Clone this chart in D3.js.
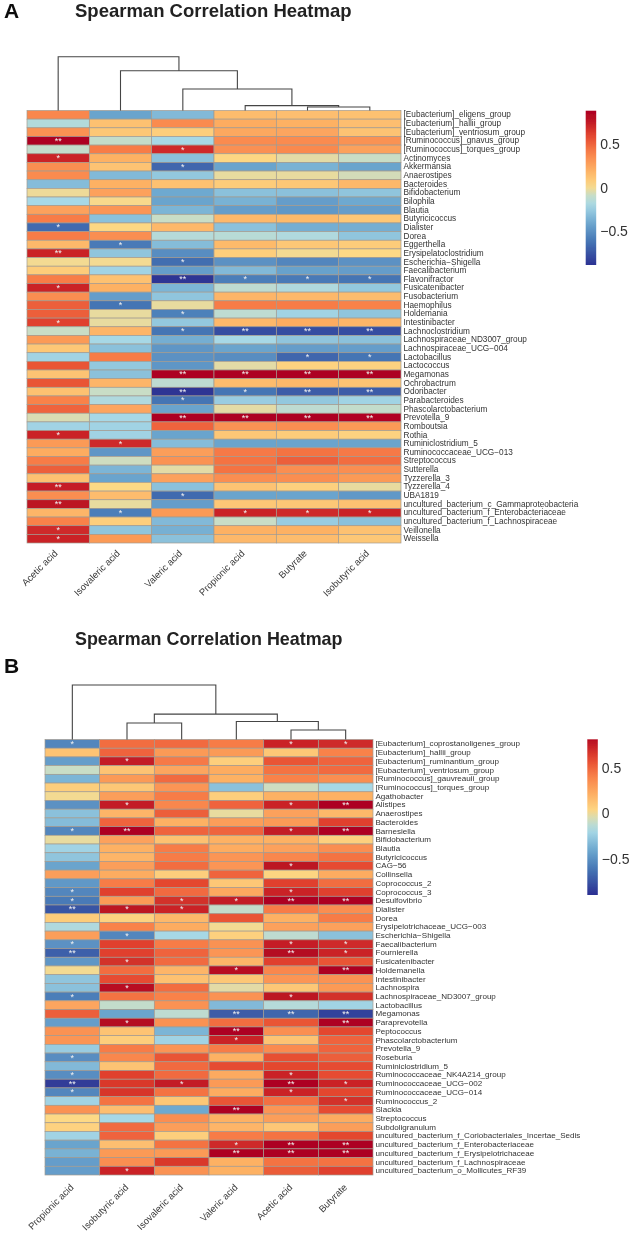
<!DOCTYPE html>
<html>
<head>
<meta charset="utf-8">
<script src="https://d3js.org/d3.v7.min.js"></script>
<style>
  body { margin: 0; background: #fff; }
  text { font-family: "Liberation Sans", Arial, sans-serif; }
</style>
</head>
<body>
<svg id="chart"></svg>
<script>
var colsA = ["Acetic acid", "Isovaleric acid", "Valeric acid", "Propionic acid", "Butyrate", "Isobutyric acid"];
var rowsA = ["[Eubacterium]_eligens_group", "[Eubacterium]_hallii_group", "[Eubacterium]_ventriosum_group",
    "[Ruminococcus]_gnavus_group", "[Ruminococcus]_torques_group", "Actinomyces", "Akkermansia", "Anaerostipes",
    "Bacteroides", "Bifidobacterium", "Bilophila", "Blautia", "Butyricicoccus", "Dialister", "Dorea", "Eggerthella",
    "Erysipelatoclostridium", "Escherichia\u2212Shigella", "Faecalibacterium", "Flavonifractor", "Fusicatenibacter",
    "Fusobacterium", "Haemophilus", "Holdemania", "Intestinibacter", "Lachnoclostridium",
    "Lachnospiraceae_ND3007_group", "Lachnospiraceae_UCG\u2212004", "Lactobacillus", "Lactococcus", "Megamonas",
    "Ochrobactrum", "Odoribacter", "Parabacteroides", "Phascolarctobacterium", "Prevotella_9", "Romboutsia", "Rothia",
    "Ruminiclostridium_5", "Ruminococcaceae_UCG\u2212013", "Streptococcus", "Sutterella", "Tyzzerella_3", "Tyzzerella_4",
    "UBA1819", "uncultured_bacterium_c_Gammaproteobacteria", "uncultured_bacterium_f_Enterobacteriaceae",
    "uncultured_bacterium_f_Lachnospiraceae", "Veillonella", "Weissella"];

var valuesA = [
    [.38, -.42, -.33, .15, .14, .13], [-.16, .13, .36, .22, .2, .14], [.33, .1, .07, .24, .25, .12],
    [.85, -.1, -.2, .36, .36, .33], [-.1, .42, .7, .34, .37, .27], [.72, .2, -.3, .03, -.03, -.08],
    [.35, .12, -.68, -.42, -.36, -.42], [.36, -.33, -.27, -.02, -.02, -.06], [-.32, .2, .13, .08, .1, .17],
    [-.01, .27, -.4, -.3, -.3, -.28], [-.2, .01, -.42, -.36, -.45, -.4], [.27, .32, -.35, -.45, -.47, -.45],
    [.42, -.3, -.08, .17, .16, .1], [-.66, .03, .17, -.3, -.38, -.38], [.42, .35, -.15, -.14, -.17, -.28],
    [.17, -.6, -.32, .16, .1, .08], [.72, -.28, -.52, .07, 0, .02], [0, 0, -.65, -.5, -.55, -.5],
    [.08, -.22, -.45, -.33, -.43, -.45], [.42, .13, -.88, -.58, -.6, -.62], [.72, .2, -.35, -.12, -.17, -.27],
    [.35, -.45, -.28, .18, .17, .15], [.52, -.62, -.02, .42, .42, .4], [.52, -.02, -.57, -.12, -.22, -.28],
    [.62, -.02, -.27, .17, .22, .18], [-.08, .18, -.62, -.78, -.78, -.78], [.3, -.2, -.38, -.2, -.28, -.3],
    [.1, -.3, -.48, -.42, -.45, -.45], [-.22, .42, -.5, -.52, -.68, -.62], [.55, -.27, -.48, -.03, .05, .05],
    [.12, -.3, .85, .85, .87, .87], [.55, .18, -.12, .15, .17, .12], [.13, -.08, -.88, -.62, -.72, -.72],
    [.4, -.17, -.62, -.25, -.27, -.22], [.5, .25, -.42, -.03, -.12, -.1], [-.05, -.2, .85, .85, .86, .83],
    [-.22, -.22, .5, .33, .35, .3], [.72, -.22, -.42, .1, .08, .05], [.3, .7, -.32, -.42, -.42, -.42],
    [.22, -.48, .28, .43, .45, .43], [.42, -.07, .33, .45, .52, .47], [.52, -.35, -.03, .45, .35, .35],
    [.13, -.42, .27, .35, .35, .3], [.74, .02, -.3, .12, .06, -.02], [.35, .15, -.66, -.42, -.42, -.47],
    [.78, -.02, -.45, .1, .1, .13], [.18, -.58, .3, .72, .7, .72], [.4, .07, -.33, -.08, -.25, -.3],
    [.7, -.28, -.37, .2, .2, .13], [.72, .3, -.3, .17, .15, .1]
];

// [row, column, mark]
var marksA = [
    [3, 0, "**"], [4, 2, "*"], [5, 0, "*"], [6, 2, "*"], [13, 0, "*"], [15, 1, "*"], [16, 0, "**"], [17, 2, "*"],
    [19, 2, "**"], [19, 3, "*"], [19, 4, "*"], [19, 5, "*"], [20, 0, "*"], [22, 1, "*"], [23, 2, "*"], [24, 0, "*"],
    [25, 2, "*"], [25, 3, "**"], [25, 4, "**"], [25, 5, "**"], [28, 4, "*"], [28, 5, "*"], [30, 2, "**"], [30, 3, "**"],
    [30, 4, "**"], [30, 5, "**"], [32, 2, "**"], [32, 3, "*"], [32, 4, "**"], [32, 5, "**"], [33, 2, "*"], [35, 2, "**"],
    [35, 3, "**"], [35, 4, "**"], [35, 5, "**"], [37, 0, "*"], [38, 1, "*"], [43, 0, "**"], [44, 2, "*"], [45, 0, "**"],
    [46, 1, "*"], [46, 3, "*"], [46, 4, "*"], [46, 5, "*"], [48, 0, "*"], [49, 0, "*"]
];

var treeA = { h: 1, children: [{ leaf: 0 }, { h: .74, children: [{ leaf: 1 }, { h: .4, children: [{ leaf: 2 },
    { h: .09, children: [{ leaf: 3 }, { h: .065, children: [{ leaf: 4 }, { leaf: 5 }] }] }] }] }] };

var colsB = ["Propionic acid", "Isobutyric acid", "Isovaleric acid", "Valeric acid", "Acetic acid", "Butyrate"];
var rowsB = ["[Eubacterium]_coprostanoligenes_group", "[Eubacterium]_hallii_group", "[Eubacterium]_ruminantium_group",
    "[Eubacterium]_ventriosum_group", "[Ruminococcus]_gauvreauii_group", "[Ruminococcus]_torques_group", "Agathobacter",
    "Alistipes", "Anaerostipes", "Bacteroides", "Barnesiella", "Bifidobacterium", "Blautia", "Butyricicoccus",
    "CAG\u221256", "Collinsella", "Coprococcus_2", "Coprococcus_3", "Desulfovibrio", "Dialister", "Dorea",
    "Erysipelotrichaceae_UCG\u2212003", "Escherichia\u2212Shigella", "Faecalibacterium", "Fournierella",
    "Fusicatenibacter", "Holdemanella", "Intestinibacter", "Lachnospira", "Lachnospiraceae_ND3007_group",
    "Lactobacillus", "Megamonas", "Paraprevotella", "Peptococcus", "Phascolarctobacterium", "Prevotella_9", "Roseburia",
    "Ruminiclostridium_5", "Ruminococcaceae_NK4A214_group", "Ruminococcaceae_UCG\u2212002", "Ruminococcaceae_UCG\u2212014",
    "Ruminococcus_2", "Slackia", "Streptococcus", "Subdoligranulum",
    "uncultured_bacterium_f_Coriobacteriales_Incertae_Sedis", "uncultured_bacterium_f_Enterobacteriaceae",
    "uncultured_bacterium_f_Erysipelotrichaceae", "uncultured_bacterium_f_Lachnospiraceae",
    "uncultured_bacterium_o_Mollicutes_RF39"];

var valuesB = [
    [-.55, .47, .48, .42, .72, .7], [.12, .5, .3, .3, .1, .4], [-.45, .75, .43, .07, .55, .5],
    [-.08, .12, .25, .22, .45, .48], [-.35, .3, .48, .2, .4, .35], [.07, .1, .32, -.3, -.07, -.2],
    [0, .28, .42, .07, .2, .2], [-.5, .75, .38, .5, .72, .85], [-.3, .18, .52, -.02, .27, .17],
    [-.32, .5, .2, .28, .3, .62], [-.55, .85, .5, .5, .75, .87], [-.02, .27, .13, .2, .2, .06],
    [-.22, .2, .42, .22, .27, .35], [-.28, .18, .42, .32, .38, .45], [-.42, .28, .47, .32, .78, .58],
    [.28, .22, .07, .5, .04, .22], [-.47, .42, .6, .1, .62, .47], [-.55, .62, .48, .24, .72, .62],
    [-.6, .3, .68, .75, .88, .88], [-.75, .78, .72, -.1, .42, .35], [.08, .05, .17, .55, .2, .42],
    [-.17, .4, .22, 0, .27, .27], [.28, -.55, -.2, .06, -.12, -.3], [-.5, .62, .42, .33, .74, .7],
    [-.7, .62, .5, .32, .82, .72], [-.48, .68, .48, .18, .62, .55], [0, .47, .18, .8, .38, .86],
    [-.28, .58, .13, .1, .32, .33], [-.3, .8, .47, -.03, .1, .3], [-.58, .45, .4, .33, .78, .68],
    [.25, -.1, .33, -.33, -.15, -.22], [.52, -.42, -.12, -.72, -.68, -.82], [-.45, .82, .33, .47, .55, .85],
    [.33, .12, -.35, .85, .35, .6], [.32, .07, -.22, .72, .12, .5], [-.25, .42, .32, .42, .36, .5],
    [-.52, .38, .55, .2, .57, .52], [-.33, .12, .48, .58, .6, .58], [-.52, .62, .48, .23, .72, .58],
    [-.85, .65, .75, .3, .85, .72], [-.55, .66, .45, .22, .72, .6], [-.22, .45, .1, .55, .46, .68],
    [.33, .14, -.4, .85, .32, .58], [.02, -.2, .35, .2, .28, .22], [.05, .48, .28, .18, .1, .28],
    [-.22, .5, .07, .42, .45, .6], [-.42, .14, .45, .7, .87, .87], [-.36, .3, .3, .85, .87, .87],
    [-.45, .35, .65, .2, .45, .45], [-.45, .72, .33, .2, .53, .62]
];

var marksB = [
    [0, 0, "*"], [0, 4, "*"], [0, 5, "*"], [2, 1, "*"], [7, 1, "*"], [7, 4, "*"], [7, 5, "**"], [10, 0, "*"], [10, 1, "**"],
    [10, 4, "*"], [10, 5, "**"], [14, 4, "*"], [17, 0, "*"], [17, 4, "*"], [18, 0, "*"], [18, 2, "*"], [18, 3, "*"],
    [18, 4, "**"], [18, 5, "**"], [19, 0, "**"], [19, 1, "*"], [19, 2, "*"], [22, 1, "*"], [23, 0, "*"], [23, 4, "*"],
    [23, 5, "*"], [24, 0, "**"], [24, 4, "**"], [24, 5, "*"], [25, 1, "*"], [26, 3, "*"], [26, 5, "**"], [28, 1, "*"],
    [29, 0, "*"], [29, 4, "*"], [31, 3, "**"], [31, 4, "**"], [31, 5, "**"], [32, 1, "*"], [32, 5, "**"], [33, 3, "**"],
    [34, 3, "*"], [36, 0, "*"], [38, 0, "*"], [38, 4, "*"], [39, 0, "**"], [39, 2, "*"], [39, 4, "**"], [39, 5, "*"],
    [40, 0, "*"], [40, 4, "*"], [41, 5, "*"], [42, 3, "**"], [46, 3, "*"], [46, 4, "**"], [46, 5, "**"], [47, 3, "**"],
    [47, 4, "**"], [47, 5, "**"], [49, 1, "*"]
];

var treeB = { h: 1, children: [{ leaf: 0 }, { h: .466, children: [
    { h: .303, children: [{ leaf: 1 }, { leaf: 2 }] },
    { h: .33, children: [{ leaf: 3 }, { h: .174, children: [{ leaf: 4 }, { leaf: 5 }] }] }] }] };

var legendTicks = [-0.5, 0, 0.5];

var color = d3.scaleLinear()
    .domain([-0.9, -0.62, -0.4, -0.2, -0.08, 0.02, 0.2, 0.4, 0.6, 0.85])
    .range(["#2b2f92", "#4575b4", "#6ea9d0", "#a7d8e6", "#c9ddc6", "#fdd985", "#fdb164", "#f9824a", "#e4462f", "#ad0020"])
    .clamp(true);

var svg = d3.select("#chart")
    .attr("width", 633)
    .attr("height", 1242)
    .style("display", "block");

svg.append("defs").append("filter")
    .attr("id", "soft")
    .attr("x", "-2%").attr("y", "-2%").attr("width", "104%").attr("height", "104%")
    .append("feGaussianBlur")
    .attr("stdDeviation", 0.35);

var root = svg.append("g").attr("filter", "url(#soft)");

function drawPanel(p) {
    var x = d3.scaleBand().domain(d3.range(p.cols.length)).range([p.x0, p.x1]);
    var y = d3.scaleBand().domain(d3.range(p.rows.length)).range([p.y0, p.y1]);
    var g = root.append("g");

    g.append("text")
        .attr("x", 4).attr("y", p.letterY)
        .attr("font-size", 21).attr("font-weight", "bold").attr("fill", "#111")
        .text(p.letter);

    g.append("text")
        .attr("x", 75).attr("y", p.titleY)
        .attr("font-size", p.titleSize).attr("font-weight", "bold").attr("fill", "#222")
        .text("Spearman Correlation Heatmap");

    // heatmap cells
    p.values.forEach(function (row, i) {
        g.selectAll(null)
            .data(row)
            .enter()
            .append("rect")
            .attr("x", function (d, j) { return x(j); })
            .attr("y", y(i))
            .attr("width", x.bandwidth())
            .attr("height", y.bandwidth())
            .attr("fill", function (d) { return color(d); })
            .attr("stroke", "#a39b90")
            .attr("stroke-width", 0.7);
    });

    g.selectAll(null)
        .data(p.marks)
        .enter()
        .append("text")
        .attr("x", function (d) { return x(d[1]) + x.bandwidth() / 2; })
        .attr("y", function (d) { return y(d[0]) + y.bandwidth() / 2 + 3.1; })
        .attr("text-anchor", "middle")
        .attr("font-size", 9)
        .attr("fill", "#f2f2f2")
        .text(function (d) { return d[2]; });

    // row labels
    var rowAxis = d3.axisRight(y)
        .tickSize(0)
        .tickPadding(2.5)
        .tickFormat(function (i) { return p.rows[i]; });
    var ra = g.append("g")
        .attr("transform", "translate(" + p.x1 + ",0)")
        .call(rowAxis);
    ra.select(".domain").remove();
    ra.selectAll("text").attr("font-size", p.rowSize).attr("fill", "#333");

    // column labels
    var colAxis = d3.axisBottom(x)
        .tickSize(0)
        .tickFormat(function (i) { return p.cols[i]; });
    var ca = g.append("g")
        .attr("transform", "translate(0," + p.y1 + ")")
        .call(colAxis);
    ca.select(".domain").remove();
    ca.selectAll("text")
        .attr("font-size", 9.5)
        .attr("fill", "#3a3a3a")
        .attr("text-anchor", "end")
        .attr("dy", 0)
        .attr("transform", "translate(" + p.colShift + "," + p.colDrop + ") rotate(-45)")
        .attr("y", 0);

    // dendrogram
    var h = d3.scaleLinear().domain([0, 1]).range([p.y0, p.treeTop]);
    var tree = d3.hierarchy(p.tree);
    tree.eachAfter(function (n) {
        n.px = n.children ? d3.mean(n.children, function (c) { return c.px; }) : x(n.data.leaf) + x.bandwidth() / 2;
        n.py = n.children ? h(n.data.h) : p.y0;
    });
    var link = d3.line();
    g.selectAll(null)
        .data(tree.descendants().filter(function (n) { return n.children; }))
        .enter()
        .append("path")
        .attr("fill", "none")
        .attr("stroke", "#444")
        .attr("stroke-width", 1.1)
        .attr("d", function (n) {
            var a = n.children[0], b = n.children[1];
            return link([[a.px, a.py], [a.px, n.py], [b.px, n.py], [b.px, b.py]]);
        });

    // colour key
    var key = d3.scaleLinear().domain(p.keyDomain).range([p.keyY1, p.keyY0]);
    var gradId = "key" + p.letter;
    var grad = svg.select("defs").append("linearGradient")
        .attr("id", gradId)
        .attr("x1", 0).attr("y1", 1).attr("x2", 0).attr("y2", 0);
    d3.range(0, 1.001, 0.05).forEach(function (t) {
        grad.append("stop")
            .attr("offset", t)
            .attr("stop-color", color(p.keyDomain[0] + t * (p.keyDomain[1] - p.keyDomain[0])));
    });
    g.append("rect")
        .attr("x", p.keyX).attr("y", p.keyY0)
        .attr("width", 10.5).attr("height", p.keyY1 - p.keyY0)
        .attr("fill", "url(#" + gradId + ")");
    var ka = g.append("g")
        .attr("transform", "translate(" + (p.keyX + 10.5) + ",0)")
        .call(d3.axisRight(key)
            .tickValues(legendTicks)
            .tickSize(0)
            .tickPadding(4)
            .tickFormat(function (d) { return d === 0 ? "0" : String(d).replace("-", "\u2212"); }));
    ka.select(".domain").remove();
    ka.selectAll("text").attr("font-size", 14).attr("fill", "#333");
}

drawPanel({
    letter: "A", letterY: 18, titleY: 17, titleSize: 18.5, rowSize: 8.25, colShift: 0, colDrop: 11,
    cols: colsA, rows: rowsA, values: valuesA, marks: marksA, tree: treeA,
    x0: 27, x1: 401, y0: 110.5, y1: 543, treeTop: 56.7,
    keyX: 585.7, keyY0: 110.7, keyY1: 265, keyDomain: [-0.89, 0.89]
});

drawPanel({
    letter: "B", letterY: 673, titleY: 645, titleSize: 17.9, rowSize: 8.05, colShift: 2, colDrop: 13,
    cols: colsB, rows: rowsB, values: valuesB, marks: marksB, tree: treeB,
    x0: 45, x1: 373, y0: 739.5, y1: 1175, treeTop: 685,
    keyX: 587.3, keyY0: 739.3, keyY1: 895, keyDomain: [-0.9, 0.81]
});
</script>
</body>
</html>
